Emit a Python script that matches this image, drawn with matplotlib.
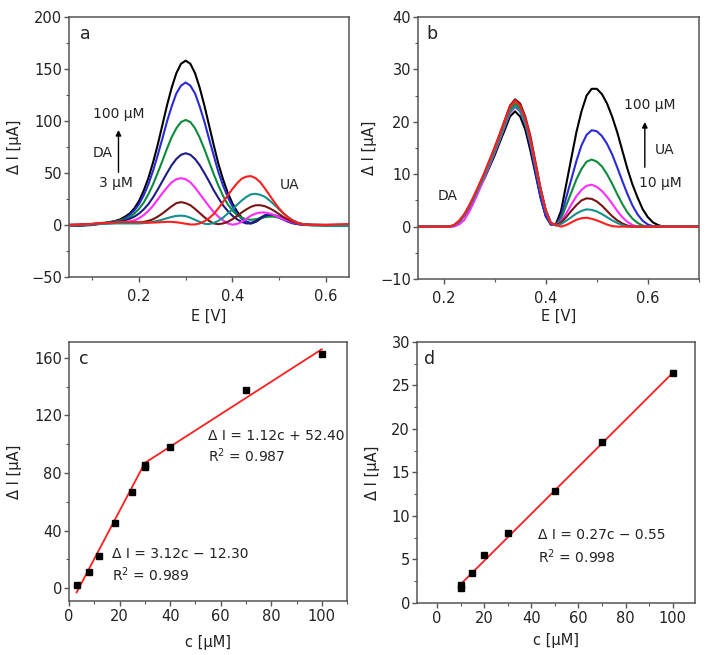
import matplotlib
matplotlib.use("Agg")
import matplotlib.pyplot as plt
from matplotlib.ticker import MultipleLocator

plt.rcParams["font.family"] = ["DejaVu Sans"]
plt.rcParams["font.size"] = 10.5
plt.rcParams["axes.unicode_minus"] = True

# ---- panel a: DPV curves, DA varied (3 -> 100 uM), UA fixed ----
E_A = [0.04, 0.07, 0.10, 0.13,
       0.15, 0.16, 0.17, 0.18, 0.19, 0.20, 0.21, 0.22, 0.23, 0.24,
       0.25, 0.26, 0.27, 0.28, 0.29, 0.30, 0.31, 0.32, 0.33, 0.34,
       0.35, 0.36, 0.37, 0.38, 0.39, 0.40, 0.41, 0.42, 0.43, 0.44,
       0.45, 0.46, 0.47, 0.48, 0.49, 0.50, 0.51, 0.52, 0.53, 0.54,
       0.55, 0.56, 0.57,
       0.60, 0.63, 0.66]
A_BLACK = [0, -0.5, 0.5, 2,
           4, 5.5, 8, 11, 16, 23, 33, 45, 60, 77,
           96, 115, 132, 146, 155, 158, 155, 146, 132, 115,
           96, 77, 59, 44, 31, 21, 13, 7, 3, 1.5,
           3, 6, 8.5, 9.5, 9, 7.5, 5.5, 3.5, 2, 1,
           0.5, 0, 0,
           0, 0, 0]
A_BLUE = [0, 0, 0.5, 2,
          3.5, 4.5, 6.5, 9.5, 14, 20, 28.5, 39, 52, 67,
          83, 99.5, 114, 126.5, 134, 137, 134, 126.5, 114, 99.5,
          83, 67, 51, 38, 27, 18, 11, 6, 3, 2,
          4, 7, 9.5, 10, 9, 7, 5, 3, 1.5, 0.8,
          0.3, 0, 0,
          0, 0, 0]
A_GREEN = [0, 0.2, 1, 2.5,
           3.5, 4.5, 5.5, 7.5, 11, 15.5, 21.5, 29.5, 39, 50,
           61.5, 73.5, 84.5, 93, 99, 101, 99, 93, 84, 73,
           61, 49, 38, 28, 20, 14, 9.5, 7, 5.5, 5,
           5.5, 6.5, 7.5, 8, 8, 7, 6, 4.5, 3, 1.8,
           1, 0.5, 0.2,
           0, 0, 0]
A_NAVY = [0, -1, 0, 2,
          3, 3.5, 4.5, 6, 8, 11, 15, 20, 26.5, 34,
          42, 50, 57.5, 63.5, 67.5, 69, 67.5, 63.5, 57.5, 50,
          42, 33.5, 26, 19, 13.5, 9, 5.5, 3, 1.5, 1.5,
          3.5, 6.5, 9, 10, 9.5, 8, 6, 4, 2.5, 1.2,
          0.5, 0, 0,
          0, 0, 0]
A_MAGENTA = [0, 0.3, 1, 1.5,
             2, 2.3, 2.8, 3.5, 4.5, 6.5, 9.5, 13.5, 18.5, 24.5,
             30.5, 36, 41, 44, 45, 44, 41, 36, 30, 24,
             18, 12.5, 8, 4.5, 1.5, 0.3, 1, 3, 6, 9,
             11, 12, 12, 11, 9.5, 7.5, 5.5, 4, 2.5, 1.5,
             0.8, 0.4, 0,
             0, 0, 0]
A_BROWN = [0, 0.3, 1, 1.8,
           2, 2, 2, 2, 2.2, 2.5, 3, 4, 5.5, 8,
           11, 14.5, 18, 21, 22, 21, 19, 15.5, 11.5, 7.5,
           4, 1.5, 0.8, 1.5, 3, 5.5, 8.5, 12, 15, 17.5,
           19, 19, 18, 16, 13.5, 10.5, 7.5, 5, 3, 1.8,
           1, 0.5, 0.2,
           0, 0, 0]
A_TEAL = [0, -0.5, 0.5, 1.2,
          1.5, 1.5, 1.5, 1.5, 1.5, 1.5, 1.8, 2.2, 3, 4,
          5.2, 6.5, 7.8, 8.7, 9, 8.5, 7, 5, 3, 1.2,
          0.8, 2, 4, 7, 11, 15, 19.5, 23.5, 27, 29.5,
          30, 29, 27, 23.5, 19.5, 15, 11, 7.5, 4.5, 2.5,
          1, 0, -0.5,
          -1, -1, -1]
A_RED = [0, 0.3, 1, 2,
         2.5, 3, 3, 3, 3, 2.8, 2.5, 2.3, 2.3, 2.5,
         2.8, 3, 3, 2.6, 2, 1.2, 0.5, 0.5, 1.5, 3.5,
         6.5, 10.5, 16, 22, 28.5, 34.5, 40, 44.5, 46.5, 47,
         45, 41, 35, 28.5, 22, 16, 11, 7, 4, 2,
         0.8, 0.3, 0.2,
         0, 0.7, 1]

# ---- panel b: DPV curves, UA varied (10 -> 100 uM), DA fixed ----
E_B = [0.14, 0.17, 0.20,
       0.21, 0.22, 0.23, 0.24, 0.25, 0.26, 0.27, 0.28, 0.29, 0.30,
       0.31, 0.32, 0.33, 0.34, 0.35, 0.36, 0.37, 0.38, 0.39, 0.40,
       0.41, 0.42, 0.43, 0.44, 0.45, 0.46, 0.47, 0.48, 0.49, 0.50,
       0.51, 0.52, 0.53, 0.54, 0.55, 0.56, 0.57, 0.58, 0.59, 0.60,
       0.61, 0.62, 0.63,
       0.66, 0.69, 0.72]
B_BLACK = [0, 0, 0,
           0, 0.2, 0.9, 2, 3.5, 5.3, 7.3, 9.2, 11.4, 13.6,
           16.1, 18.5, 21, 22, 21, 18.5, 14.5, 10, 5.5, 2,
           0.4, 0.5, 3, 8, 13, 18, 22, 25, 26.3, 26.3,
           25.3, 23.5, 21, 18, 14.5, 11, 8, 5.5, 3.3, 1.8,
           0.8, 0.3, 0,
           0, 0, 0]
B_BLUE = [0, 0, 0,
          0, 0.2, 0.9, 2.1, 3.7, 5.5, 7.6, 9.7, 12, 14.3,
          16.8, 19.3, 21.9, 23, 22, 19.5, 15.5, 10.5, 5.5, 2,
          0.4, 0.3, 2, 5.5, 9, 12.5, 15.5, 17.5, 18.4, 18.2,
          17.3, 15.8, 13.8, 11.3, 8.7, 6.2, 4, 2.3, 1.1, 0.4,
          0.1, 0, 0,
          0, 0, 0]
B_GREEN = [0, 0, 0,
           0, 0.2, 0.9, 2.1, 3.8, 5.6, 7.8, 9.9, 12.2, 14.6,
           17.2, 19.7, 22.3, 23.5, 22.6, 20.2, 16.5, 11.8, 7, 3,
           0.7, 0.3, 1.5, 4, 6.5, 9, 11, 12.4, 12.8, 12.4,
           11.5, 10, 8.2, 6.2, 4.3, 2.7, 1.5, 0.7, 0.2, 0,
           0, 0, 0,
           0, 0, 0]
B_MAGENTA = [0, 0, 0,
             0, 0, 0.4, 1.2, 2.8, 4.8, 7, 9.3, 11.7, 14.1,
             16.6, 19.2, 21.7, 22.8, 22, 19.8, 16.2, 11.6, 7, 3,
             0.7, 0.3, 1, 2.5, 4.2, 5.8, 7, 7.8, 8, 7.6,
             6.8, 5.7, 4.4, 3, 1.8, 0.9, 0.3, 0, 0, 0,
             0, 0, 0,
             0, 0, 0]
B_BROWN = [0, 0, 0,
           0, 0.2, 1, 2.2, 3.9, 5.8, 8, 10.2, 12.6, 15.1,
           17.7, 20.4, 23.1, 24.3, 23.5, 21, 17.3, 12.3, 7.3, 3.2,
           0.7, 0.3, 0.8, 1.8, 3, 4.1, 5, 5.4, 5.3, 4.8,
           4, 3, 2, 1.2, 0.6, 0.2, 0, 0, 0, 0,
           0, 0, 0,
           0, 0, 0]
B_TEAL = [0, 0, 0,
          0, 0.2, 0.9, 2.1, 3.7, 5.5, 7.6, 9.7, 12, 14.3,
          16.8, 19.3, 21.9, 23, 22.1, 19.8, 16.1, 11.5, 6.9, 3,
          0.7, 0.2, 0.5, 1.1, 1.8, 2.5, 3, 3.3, 3.2, 2.9,
          2.4, 1.8, 1.2, 0.7, 0.3, 0, 0, 0, 0, 0,
          0, 0, 0,
          0, 0, 0]
B_RED = [0, 0, 0,
         0, 0.3, 1.1, 2.3, 4, 6, 8.1, 10.3, 12.7, 15,
         17.6, 20.2, 22.8, 24, 23, 20.6, 16.8, 12, 7.2, 3.1,
         0.7, 0.3, 0, 0.3, 0.8, 1.3, 1.6, 1.7, 1.5, 1.2,
         0.8, 0.4, 0.1, 0, 0, 0, 0, 0, 0, 0,
         0, 0, 0,
         0, 0, 0]

# ---- panel c: DA calibration ----
C_CONC = [3, 8, 12, 18, 25, 30, 30, 40, 70, 100]
C_CURR = [2.4, 11, 22, 45.5, 66.5, 84, 85.7, 98, 137.5, 163]
C_FIT1_X = [3, 30]
C_FIT1_Y = [-3, 87]
C_FIT2_X = [30, 100]
C_FIT2_Y = [87, 166]

# ---- panel d: UA calibration ----
D_CONC = [10, 10, 15, 20, 30, 50, 70, 100]
D_CURR = [2.1, 1.7, 3.5, 5.5, 8.0, 12.9, 18.5, 26.4]
D_FIT_X = [10, 100]
D_FIT_Y = [2.15, 26.45]

COL = {"black": "#000000", "blue": "#2a2ad8", "green": "#0b8c3c",
       "navy": "#1c1c86", "magenta": "#ff2cff", "brown": "#7a1414",
       "teal": "#14908c", "red": "#ff1e1e"}
SPINE = "#555555"
TXT = "#222222"
ANN = 10


def style(ax, xmaj, xmin, ymaj, ymin, xpad=4):
    for s in ax.spines.values():
        s.set_color(SPINE)
        s.set_linewidth(1.1)
    ax.xaxis.set_major_locator(MultipleLocator(xmaj))
    ax.xaxis.set_minor_locator(MultipleLocator(xmin))
    ax.yaxis.set_major_locator(MultipleLocator(ymaj))
    ax.yaxis.set_minor_locator(MultipleLocator(ymin))
    ax.tick_params(which="major", direction="out", length=3.5, width=1,
                   color=SPINE, labelcolor=TXT, labelsize=10.5)
    ax.tick_params(axis="y", which="major", pad=1.5)
    ax.tick_params(axis="x", which="major", pad=xpad)
    ax.tick_params(which="minor", direction="out", length=2, width=0.8, color=SPINE)


fig = plt.figure(figsize=(7.13, 6.55), dpi=100)
ax_a = fig.add_axes([0.0968, 0.5771, 0.3927, 0.397])
ax_b = fig.add_axes([0.5863, 0.5740, 0.3940, 0.400])
ax_c = fig.add_axes([0.0968, 0.0824, 0.3900, 0.3954])
ax_d = fig.add_axes([0.5849, 0.0794, 0.3900, 0.3985])

# panel a
for y, c in [(A_BLACK, "black"), (A_BLUE, "blue"), (A_GREEN, "green"),
             (A_NAVY, "navy"), (A_MAGENTA, "magenta"), (A_BROWN, "brown"),
             (A_TEAL, "teal"), (A_RED, "red")]:
    ax_a.plot(E_A, y, color=COL[c], lw=1.5, solid_joinstyle="round")
ax_a.set_xlim(0.05, 0.65)
ax_a.set_ylim(-50, 200)
style(ax_a, 0.2, 0.1, 50, 25, xpad=5)
ax_a.text(0.04, 0.97, "a", transform=ax_a.transAxes, ha="left", va="top",
          fontsize=12.5, color=TXT)
ax_a.text(0.157, 107, "100 µM", ha="center", va="center", fontsize=ANN, color=TXT)
ax_a.annotate("", xy=(0.156, 94), xytext=(0.156, 48),
              arrowprops=dict(arrowstyle="-|>", lw=1, color="k", mutation_scale=8))
ax_a.text(0.123, 69, "DA", ha="center", va="center", fontsize=ANN, color=TXT)
ax_a.text(0.151, 40, "3 µM", ha="center", va="center", fontsize=ANN, color=TXT)
ax_a.text(0.522, 38, "UA", ha="center", va="center", fontsize=ANN, color=TXT)
ax_a.set_xlabel("E [V]", color=TXT)
ax_a.set_ylabel("Δ I [µA]", color=TXT)
ax_a.xaxis.set_label_coords(0.5, -0.123)
ax_a.yaxis.set_label_coords(-0.168, 0.5)

# panel b
for y, c in [(B_BLACK, "black"), (B_BLUE, "blue"), (B_GREEN, "green"),
             (B_MAGENTA, "magenta"), (B_BROWN, "brown"), (B_TEAL, "teal"),
             (B_RED, "red")]:
    ax_b.plot(E_B, y, color=COL[c], lw=1.5, solid_joinstyle="round")
ax_b.set_xlim(0.15, 0.70)
ax_b.set_ylim(-10, 40)
style(ax_b, 0.2, 0.1, 10, 5, xpad=5)
ax_b.text(0.03, 0.97, "b", transform=ax_b.transAxes, ha="left", va="top",
          fontsize=12.5, color=TXT)
ax_b.text(0.604, 23.2, "100 µM", ha="center", va="center", fontsize=ANN, color=TXT)
ax_b.annotate("", xy=(0.594, 20.5), xytext=(0.594, 10.8),
              arrowprops=dict(arrowstyle="-|>", lw=1, color="k", mutation_scale=8))
ax_b.text(0.632, 14.6, "UA", ha="center", va="center", fontsize=ANN, color=TXT)
ax_b.text(0.625, 8.4, "10 µM", ha="center", va="center", fontsize=ANN, color=TXT)
ax_b.text(0.208, 5.8, "DA", ha="center", va="center", fontsize=ANN, color=TXT)
ax_b.set_xlabel("E [V]", color=TXT)
ax_b.set_ylabel("Δ I [µA]", color=TXT)
ax_b.xaxis.set_label_coords(0.5, -0.115)
ax_b.yaxis.set_label_coords(-0.146, 0.5)

# panel c
ax_c.plot(C_FIT1_X, C_FIT1_Y, color=COL["red"], lw=1.3)
ax_c.plot(C_FIT2_X, C_FIT2_Y, color=COL["red"], lw=1.3)
ax_c.plot(C_CONC, C_CURR, ls="none", marker="s", ms=3.8, color="k")
ax_c.set_xlim(0, 110)
ax_c.set_ylim(-9, 171)
style(ax_c, 20, 10, 40, 20, xpad=2.5)
ax_c.text(0.035, 0.97, "c", transform=ax_c.transAxes, ha="left", va="top",
          fontsize=12.5, color=TXT)
ax_c.text(55, 106, "Δ I = 1.12c + 52.40", ha="left", va="center", fontsize=ANN, color=TXT)
ax_c.text(55, 92, "R$^2$ = 0.987", ha="left", va="center", fontsize=ANN, color=TXT)
ax_c.text(17, 24, "Δ I = 3.12c \u2212 12.30", ha="left", va="center", fontsize=ANN, color=TXT)
ax_c.text(17, 9, "R$^2$ = 0.989", ha="left", va="center", fontsize=ANN, color=TXT)
ax_c.set_xlabel("c [µM]", color=TXT)
ax_c.set_ylabel("Δ I [µA]", color=TXT)
ax_c.xaxis.set_label_coords(0.5, -0.131)
ax_c.yaxis.set_label_coords(-0.169, 0.5)

# panel d
ax_d.plot(D_FIT_X, D_FIT_Y, color=COL["red"], lw=1.3)
ax_d.plot(D_CONC, D_CURR, ls="none", marker="s", ms=3.8, color="k")
ax_d.set_xlim(-8.5, 109.5)
ax_d.set_ylim(0, 30)
style(ax_d, 20, 10, 5, 2.5, xpad=2.5)
ax_d.text(0.025, 0.97, "d", transform=ax_d.transAxes, ha="left", va="top",
          fontsize=12.5, color=TXT)
ax_d.text(43, 7.8, "Δ I = 0.27c \u2212 0.55", ha="left", va="center", fontsize=ANN, color=TXT)
ax_d.text(43, 5.3, "R$^2$ = 0.998", ha="left", va="center", fontsize=ANN, color=TXT)
ax_d.set_xlabel("c [µM]", color=TXT)
ax_d.set_ylabel("Δ I [µA]", color=TXT)
ax_d.xaxis.set_label_coords(0.5, -0.115)
ax_d.yaxis.set_label_coords(-0.133, 0.5)

fig.savefig("out.png", dpi=100)
